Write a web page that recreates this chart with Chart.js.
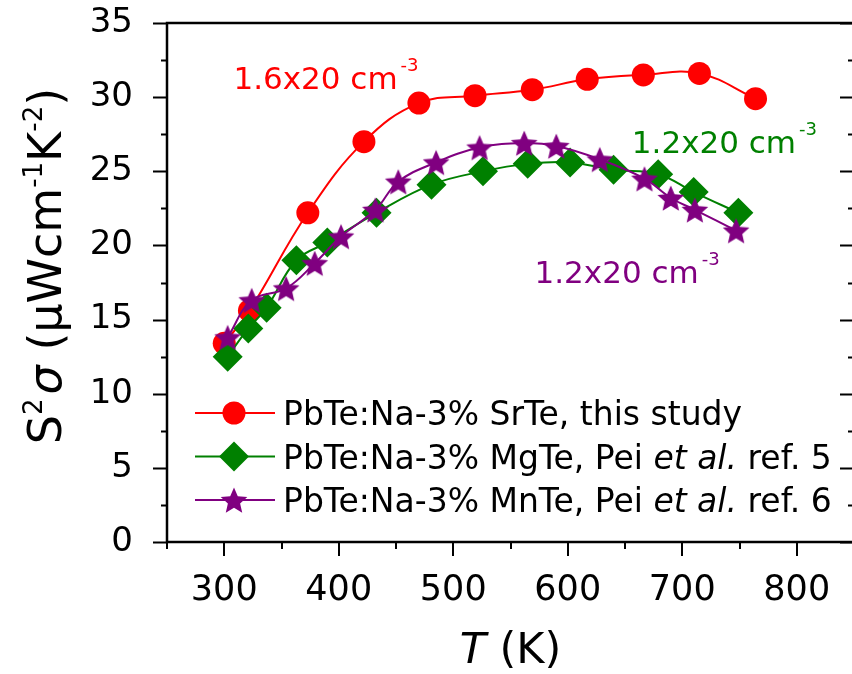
<!DOCTYPE html>
<html>
<head>
<meta charset="utf-8">
<script src="https://cdn.jsdelivr.net/npm/chart.js@4"></script>
<style>
  html, body { margin: 0; padding: 0; background: #fff; overflow: hidden; }
  #wrap { width: 870px; height: 674px; }
</style>
</head>
<body>
<div id="wrap"><canvas id="chart" width="870" height="674"></canvas></div>
<script>
// S^2 sigma vs T
const srteT = [300, 322, 373, 422, 470, 519, 569, 617, 666, 715, 764]
const srteS = [13.4, 15.6, 22.2, 27.0, 29.6, 30.1, 30.5, 31.2, 31.5, 31.6, 29.9]
const mgteT = [303, 321, 337, 363, 390, 433, 481, 526, 565, 602, 640, 679, 710, 749]
const mgteS = [12.5, 14.4, 15.8, 19.0, 20.2, 22.2, 24.1, 25.0, 25.5, 25.6, 25.1, 24.8, 23.6, 22.2]
const mnteT = [303, 324, 354, 379, 402, 432, 452, 485, 523, 562, 590, 628, 667, 690, 711, 747]
const mnteS = [13.8, 16.3, 17.1, 18.8, 20.6, 22.4, 24.3, 25.6, 26.6, 26.9, 26.7, 25.8, 24.5, 23.2, 22.4, 21.0]

const xTickLabels = [300, 400, 500, 600, 700, 800]
const yTickLabels = [0, 5, 10, 15, 20, 25, 30, 35]

const RED = '#ff0000', GREEN = '#008000', PURPLE = '#800080'
const FONT = '"DejaVu Sans"'

function starImage(color, r) {
  const c = document.createElement('canvas')
  const size = Math.ceil(r * 2 + 2)
  c.width = c.height = size
  const g = c.getContext('2d')
  g.fillStyle = color
  g.beginPath()
  for (let i = 0; i < 10; i++) {
    const rr = i % 2 ? r * 0.46 : r
    const ang = -Math.PI / 2 + i * Math.PI / 5
    g.lineTo(size / 2 + rr * Math.cos(ang), size / 2 + rr * Math.sin(ang) + r * 0.1)
  }
  g.closePath()
  g.fill()
  return c
}
const star = starImage(PURPLE, 14)

const pts = (xs, ys) => xs.map((v, i) => ({x: v, y: ys[i]}))

// draw a row of text pieces, returns width
function runs(ctx, segs, x, y, measureOnly) {
  let cx = x
  segs.forEach(s => {
    ctx.font = s.font
    if (!measureOnly) ctx.fillText(s.t, cx, y + (s.dy || 0))
    cx += ctx.measureText(s.t).width + (s.gap || 0)
  })
  return cx - x
}

const legendRows = [
  {color: RED, style: 'circle', r: 11.5, text: [['PbTe:Na-3% SrTe, this study', '']]},
  {color: GREEN, style: 'rectRot', r: 15, text: [['PbTe:Na-3% MgTe, Pei ', ''], ['et al.', 'italic '], [' ref. 5', '']]},
  {color: PURPLE, style: star, r: 14, text: [['PbTe:Na-3% MnTe, Pei ', ''], ['et al.', 'italic '], [' ref. 6', '']]}
]

const notes = [
  {t: 1.6, color: RED, x: 308, y: 30.55},
  {t: 1.2, color: GREEN, x: 656, y: 26.2},
  {t: 1.2, color: PURPLE, x: 571, y: 17.5}
]

const frame = {
  id: 'frame',
  afterDraw(chart) {
    const {ctx, chartArea: a, scales: {x, y}} = chart
    ctx.save()
    ctx.strokeStyle = '#000'
    ctx.lineCap = 'butt'
    // ticks
    ctx.lineWidth = 2
    ctx.beginPath()
    y.ticks.forEach(t => {
      const p = Math.round(y.getPixelForValue(t.value)) + 0.5
      const len = t.value % 5 === 0 ? 14 : 6
      ctx.moveTo(a.left, p); ctx.lineTo(a.left - len, p)
      ctx.moveTo(a.right, p); ctx.lineTo(a.right - len, p)
    })
    x.ticks.forEach(t => {
      const p = Math.round(x.getPixelForValue(t.value))
      const len = t.value % 100 === 0 ? 14 : 7
      ctx.moveTo(p, a.bottom); ctx.lineTo(p, a.bottom + len)
    })
    ctx.stroke()
    ctx.lineWidth = 2.5
    ctx.strokeRect(a.left, a.top, a.right - a.left, a.bottom - a.top)

    // concentration notes
    ctx.textBaseline = 'alphabetic'
    ctx.textAlign = 'left'
    notes.forEach(n => {
      ctx.fillStyle = n.color
      runs(ctx, [
        {t: n.t.toFixed(1) + 'x20 cm', font: `31px ${FONT}`, gap: 3},
        {t: '-3', font: `18px ${FONT}`, dy: -18}
      ], x.getPixelForValue(n.x), y.getPixelForValue(n.y))
    })

    // legend
    legendRows.forEach((row, i) => {
      const cy = a.top + 390 + i * 43.5
      const lx = a.left + 28
      ctx.strokeStyle = row.color
      ctx.lineWidth = 2
      ctx.beginPath()
      ctx.moveTo(lx, cy); ctx.lineTo(lx + 80, cy)
      ctx.stroke()
      ctx.fillStyle = row.color
      Chart.helpers.drawPoint(ctx, {pointStyle: row.style, radius: row.r, rotation: 0, borderWidth: 0}, lx + 39, cy)
      ctx.fillStyle = '#000'
      runs(ctx, row.text.map(s => ({t: s[0], font: `${s[1]}33px ${FONT}`})), lx + 88, cy + 12)
    })

    // axis titles
    ctx.fillStyle = '#000'
    const xs = [{t: 'T', font: `italic 43px ${FONT}`}, {t: ' (K)', font: `43px ${FONT}`}]
    const xw = runs(ctx, xs, 0, 0, true)
    runs(ctx, xs, (a.left + a.right) / 2 - xw / 2, 663)

    const ys = [
      {t: 'S', font: `46px ${FONT}`},
      {t: '2', font: `26px ${FONT}`, dy: -19, gap: 4},
      {t: 'σ', font: `italic 46px ${FONT}`},
      {t: ' (μWcm', font: `46px ${FONT}`},
      {t: '-1', font: `26px ${FONT}`, dy: -19},
      {t: 'K', font: `46px ${FONT}`},
      {t: '-2', font: `26px ${FONT}`, dy: -19},
      {t: ')', font: `46px ${FONT}`}
    ]
    const yw = runs(ctx, ys, 0, 0, true)
    ctx.translate(44, 266)
    ctx.rotate(-Math.PI / 2)
    runs(ctx, ys, -yw / 2, 17)
    ctx.restore()
  }
}

new Chart(document.getElementById('chart'), {
  type: 'line',
  data: {
    datasets: [
      {
        label: 'PbTe:Na-3% SrTe, this study',
        data: pts(srteT, srteS),
        borderColor: RED, backgroundColor: RED,
        pointStyle: 'circle', pointRadius: 11.5, pointBorderWidth: 0,
        borderWidth: 2, tension: 0.4, order: 2
      },
      {
        label: 'PbTe:Na-3% MgTe, Pei et al. ref. 5',
        data: pts(mgteT, mgteS),
        borderColor: GREEN, backgroundColor: GREEN,
        pointStyle: 'rectRot', pointRadius: 15, pointBorderWidth: 0,
        borderWidth: 2, tension: 0.4, order: 1
      },
      {
        label: 'PbTe:Na-3% MnTe, Pei et al. ref. 6',
        data: pts(mnteT, mnteS),
        borderColor: PURPLE, backgroundColor: PURPLE,
        pointStyle: star, pointRadius: 14,
        borderWidth: 2, tension: 0.4, order: 0
      }
    ]
  },
  options: {
    responsive: false,
    animation: false,
    events: [],
    devicePixelRatio: 1,
    layout: {padding: {top: 23, right: 11, left: 0, bottom: 0}},
    plugins: {legend: {display: false}, tooltip: {enabled: false}},
    scales: {
      x: {
        type: 'linear', min: 250, max: 850,
        grid: {display: false, drawTicks: false},
        border: {display: false},
        ticks: {
          stepSize: 50, autoSkip: false, maxRotation: 0, padding: 28,
          color: '#000', font: {family: 'DejaVu Sans', size: 35},
          callback: v => xTickLabels.includes(v) ? String(v) : ''
        },
        afterFit: s => { s.height = 132; s.paddingLeft = 0; s.paddingRight = 0 }
      },
      y: {
        min: 0, max: 35,
        grid: {display: false, drawTicks: false},
        border: {display: false},
        ticks: {
          stepSize: 2.5, autoSkip: false, padding: 34,
          color: '#000', font: {family: 'DejaVu Sans', size: 34},
          callback: v => yTickLabels.includes(v) ? String(v) : ''
        },
        afterFit: s => { s.width = 167; s.paddingTop = 0; s.paddingBottom = 0 }
      }
    }
  },
  plugins: [frame]
})
</script>
</body>
</html>
